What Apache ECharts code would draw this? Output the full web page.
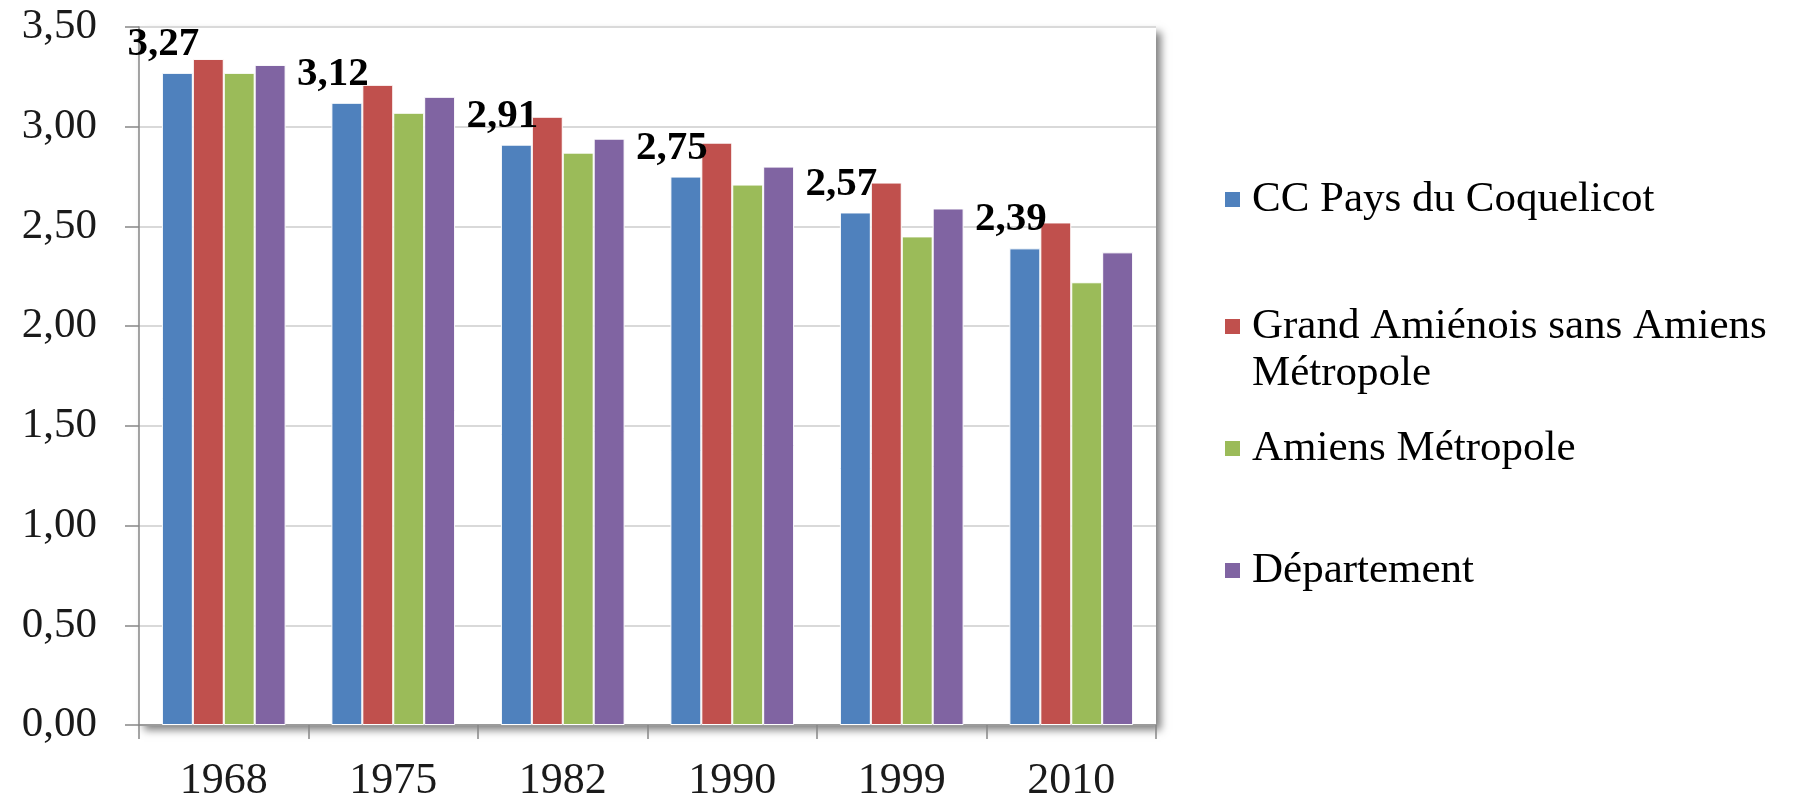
<!DOCTYPE html>
<html>
<head>
<meta charset="utf-8">
<script src="https://cdn.jsdelivr.net/npm/echarts@6/dist/echarts.min.js"></script>
<style>
  html, body { margin: 0; padding: 0; background: #fff; }
  #chart { width: 1803px; height: 803px; }
</style>
</head>
<body>
<div id="chart"></div>
<script>
// Census years
const years = ['1968', '1975', '1982', '1990', '1999', '2010'];

// Average household size per territory
const ccPaysCoquelicot = [3.27, 3.12, 2.91, 2.75, 2.57, 2.39];
const grandAmienoisSansAM = [3.34, 3.21, 3.05, 2.92, 2.72, 2.52];
const amiensMetropole = [3.27, 3.07, 2.87, 2.71, 2.45, 2.22];
const departement = [3.31, 3.15, 2.94, 2.80, 2.59, 2.37];

const seriesNames = [
  'CC Pays du Coquelicot',
  'Grand Amiénois sans Amiens Métropole',
  'Amiens Métropole',
  'Département'
];
const colors = ['#4F81BD', '#C0504D', '#9BBB59', '#8064A2'];

const FONT = '"Liberation Serif", "DejaVu Serif", serif';
const fmt = v => v.toFixed(2).replace('.', ',');

const chart = echarts.init(document.getElementById('chart'), null, { renderer: 'canvas' });

function bar(name, data, color, withLabel) {
  return {
    name: name,
    type: 'bar',
    data: data,
    barGap: '0%',
    barCategoryGap: '27%',
    itemStyle: { color: color, borderColor: '#ffffff', borderWidth: 1 },
    label: withLabel ? {
      show: true,
      position: 'top',
      offset: [-14, -3],
      formatter: p => fmt(p.value),
      fontFamily: FONT,
      fontWeight: 'bold',
      fontSize: 41,
      color: '#000'
    } : { show: false },
    emphasis: { disabled: true },
    animation: false
  };
}

// One legend block per series so the spacing of the column can be set freely.
// The two-line entry gets an empty leading line so its marker sits on the first text line.
const LEGEND_LH = 47;
const legendTop = [171, 251, 420, 542];
const legends = seriesNames.map((n, i) => {
  const twoLines = i === 1;
  return {
    data: [n],
    orient: 'vertical',
    left: 1218,
    top: legendTop[i],
    itemWidth: 17,
    itemHeight: 17,
    itemGap: 0,
    icon: 'rect',
    selectedMode: false,
    formatter: twoLines ? () => '\nGrand Amiénois sans Amiens\nMétropole' : undefined,
    textStyle: {
      fontFamily: FONT,
      fontSize: 43,
      color: '#000',
      lineHeight: LEGEND_LH,
      padding: [0, 0, 0, 6]
    }
  };
});

chart.setOption({
  backgroundColor: '#ffffff',
  color: colors,
  animation: false,
  legend: legends,
  grid: {
    left: 139,
    right: 647,
    top: 27,
    bottom: 71,
    show: true,
    backgroundColor: '#ffffff',
    borderWidth: 0,
    shadowColor: 'rgba(0,0,0,0.5)',
    shadowBlur: 8,
    shadowOffsetX: 5,
    shadowOffsetY: 5
  },
  xAxis: {
    type: 'category',
    data: years,
    boundaryGap: true,
    axisLine: { show: true, lineStyle: { color: '#868686', width: 1.5 } },
    axisTick: { show: true, alignWithLabel: false, length: 14, lineStyle: { color: '#868686', width: 1.5 } },
    axisLabel: { fontFamily: FONT, fontSize: 44, color: '#1a1a1a', margin: 34 },
    splitLine: { show: false }
  },
  yAxis: {
    type: 'value',
    min: 0,
    max: 3.5,
    interval: 0.5,
    axisLine: { show: true, lineStyle: { color: '#868686', width: 1.5 } },
    axisTick: { show: true, inside: false, length: 14, lineStyle: { color: '#868686', width: 1.5 } },
    axisLabel: { fontFamily: FONT, fontSize: 43, color: '#1a1a1a', margin: 42, formatter: v => fmt(v) },
    splitLine: { show: true, lineStyle: { color: '#d9d9d9', width: 2 } }
  },
  series: [
    bar(seriesNames[0], ccPaysCoquelicot, colors[0], true),
    bar(seriesNames[1], grandAmienoisSansAM, colors[1], false),
    bar(seriesNames[2], amiensMetropole, colors[2], false),
    bar(seriesNames[3], departement, colors[3], false)
  ]
});
</script>
</body>
</html>
